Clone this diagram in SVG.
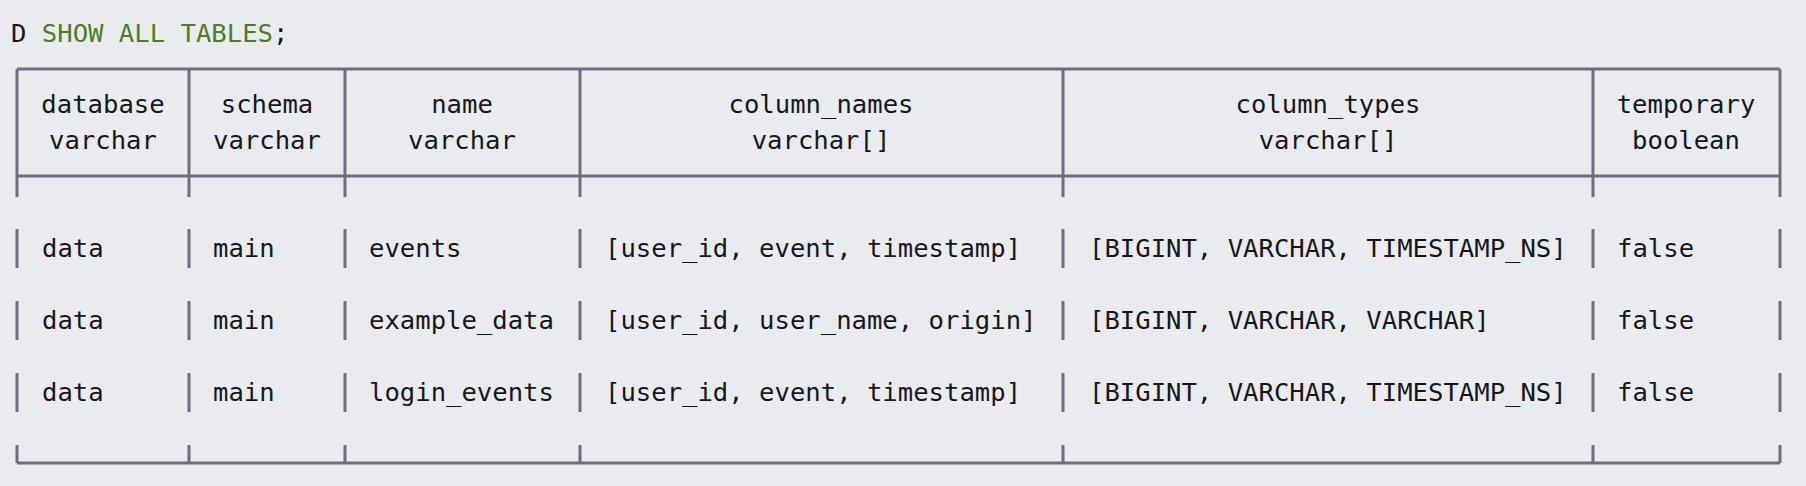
<svg xmlns="http://www.w3.org/2000/svg" width="1806" height="486" viewBox="0 0 1806 486">
<style>
text{font-family:"DejaVu Sans Mono","Liberation Mono",monospace;font-size:25.6px;fill:#16171c}
.h{text-anchor:middle}
.kw{fill:#4b7d2b}
line{stroke:#6c6e7c;stroke-width:3}
</style>
<rect width="1806" height="486" fill="#eaebef"/>
<text x="11" y="42">D <tspan class="kw">SHOW ALL TABLES</tspan>;</text>
<g id="connectors">
<line x1="17" y1="69" x2="1780" y2="69"/>
<line x1="17" y1="176" x2="1780" y2="176"/>
<line x1="17" y1="463" x2="1780" y2="463"/>
<g id="v">
<line x1="17" y1="69" x2="17" y2="197"/><line x1="189" y1="69" x2="189" y2="197"/><line x1="345" y1="69" x2="345" y2="197"/><line x1="580" y1="69" x2="580" y2="197"/><line x1="1063" y1="69" x2="1063" y2="197"/><line x1="1593" y1="69" x2="1593" y2="197"/><line x1="1780" y1="69" x2="1780" y2="197"/>
</g>
<g id="r1">
<line x1="17" y1="229" x2="17" y2="268"/><line x1="189" y1="229" x2="189" y2="268"/><line x1="345" y1="229" x2="345" y2="268"/><line x1="580" y1="229" x2="580" y2="268"/><line x1="1063" y1="229" x2="1063" y2="268"/><line x1="1593" y1="229" x2="1593" y2="268"/><line x1="1780" y1="229" x2="1780" y2="268"/>
</g>
<use href="#r1" y="72"/>
<use href="#r1" y="144"/>
<g>
<line x1="17" y1="445" x2="17" y2="463"/><line x1="189" y1="445" x2="189" y2="463"/><line x1="345" y1="445" x2="345" y2="463"/><line x1="580" y1="445" x2="580" y2="463"/><line x1="1063" y1="445" x2="1063" y2="463"/><line x1="1593" y1="445" x2="1593" y2="463"/><line x1="1780" y1="445" x2="1780" y2="463"/>
</g>
</g>
<g id="header">
<text class="h" x="103" y="113">database</text><text class="h" x="103" y="149">varchar</text>
<text class="h" x="267" y="113">schema</text><text class="h" x="267" y="149">varchar</text>
<text class="h" x="462" y="113">name</text><text class="h" x="462" y="149">varchar</text>
<text class="h" x="821" y="113">column_names</text><text class="h" x="821" y="149">varchar[]</text>
<text class="h" x="1328" y="113">column_types</text><text class="h" x="1328" y="149">varchar[]</text>
<text class="h" x="1686" y="113">temporary</text><text class="h" x="1686" y="149">boolean</text>
</g>
<g id="row1">
<text x="42" y="257">data</text><text x="213" y="257">main</text><text x="369" y="257">events</text><text x="605" y="257">[user_id, event, timestamp]</text><text x="1089" y="257">[BIGINT, VARCHAR, TIMESTAMP_NS]</text><text x="1617" y="257">false</text>
</g>
<g id="row2">
<text x="42" y="329">data</text><text x="213" y="329">main</text><text x="369" y="329">example_data</text><text x="605" y="329">[user_id, user_name, origin]</text><text x="1089" y="329">[BIGINT, VARCHAR, VARCHAR]</text><text x="1617" y="329">false</text>
</g>
<g id="row3">
<text x="42" y="401">data</text><text x="213" y="401">main</text><text x="369" y="401">login_events</text><text x="605" y="401">[user_id, event, timestamp]</text><text x="1089" y="401">[BIGINT, VARCHAR, TIMESTAMP_NS]</text><text x="1617" y="401">false</text>
</g>
</svg>
